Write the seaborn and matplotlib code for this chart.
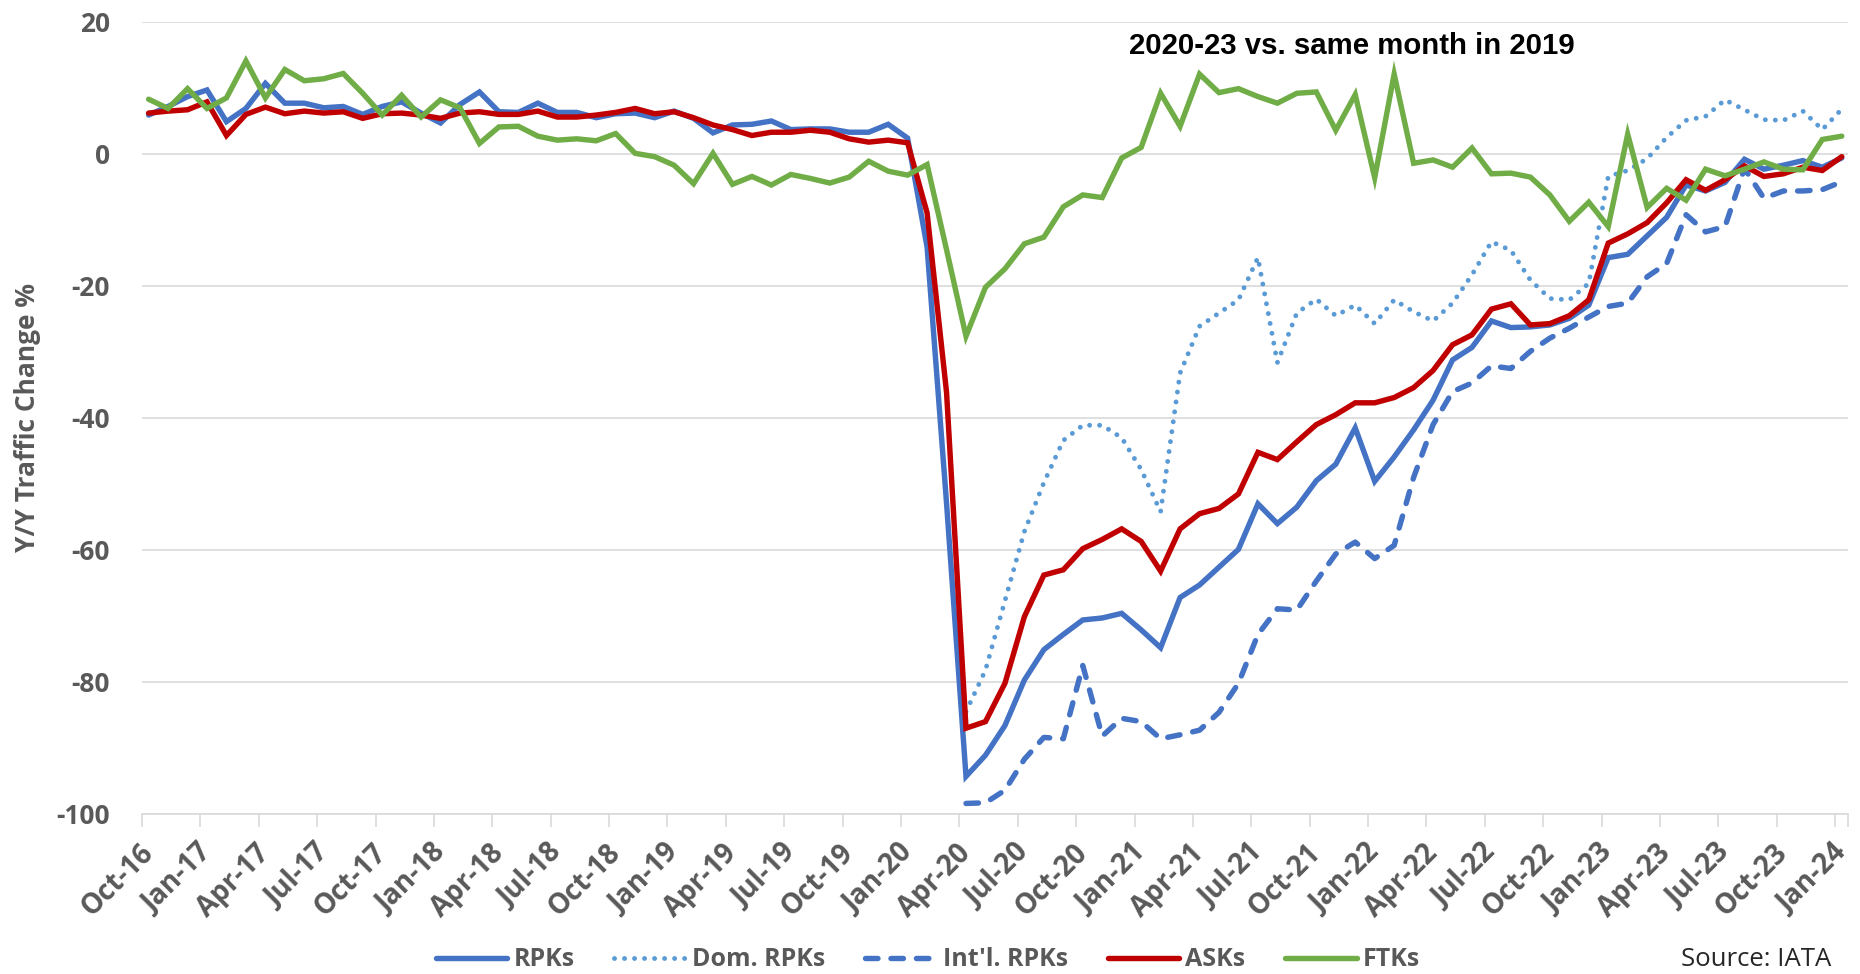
import numpy as np
import pandas as pd
import matplotlib
matplotlib.use("Agg")
import matplotlib.pyplot as plt
import seaborn as sns

# ---------------- data ----------------
months = pd.date_range("2016-10-01", "2024-01-01", freq="MS")
month_labels = [d.strftime("%b-%y") for d in months]

rpks = [5.9, 7.2, 8.7, 9.7, 4.9, 6.9, 10.7, 7.7, 7.7, 7.0, 7.2, 6.0,
        7.2, 7.9, 6.2, 4.7, 7.5, 9.4, 6.4, 6.3, 7.7, 6.3, 6.3, 5.5,
        6.1, 6.2, 5.5, 6.5, 5.4, 3.2, 4.4, 4.5, 5.0, 3.7, 3.8, 3.8,
        3.3, 3.3, 4.5, 2.4, -14.1, -52.9, -94.3, -91.1, -86.6, -79.7, -75.1, -72.8,
        -70.6, -70.3, -69.6, -72.1, -74.8, -67.2, -65.3, -62.6, -59.9, -53.0, -56.0, -53.5,
        -49.5, -47.0, -41.5, -49.6, -45.9, -41.8, -37.3, -31.2, -29.3, -25.3, -26.3, -26.2,
        -25.9, -24.9, -22.9, -15.7, -15.2, -12.4, -9.6, -4.7, -5.6, -4.3, -0.8, -2.3,
        -1.7, -1.0, -2.0, -0.6]

asks = [6.2, 6.5, 6.7, 7.9, 2.8, 6.0, 7.1, 6.1, 6.5, 6.2, 6.4, 5.4,
        6.1, 6.2, 5.9, 5.4, 6.2, 6.4, 6.0, 6.0, 6.5, 5.6, 5.6, 5.9,
        6.3, 6.9, 6.1, 6.4, 5.5, 4.4, 3.7, 2.8, 3.3, 3.3, 3.6, 3.3,
        2.3, 1.8, 2.1, 1.7, -8.9, -36.1, -87.0, -86.0, -80.2, -70.1, -63.8, -63.0,
        -59.8, -58.4, -56.8, -58.7, -63.2, -56.8, -54.5, -53.7, -51.5, -45.2, -46.3, -43.6,
        -41.0, -39.5, -37.7, -37.7, -36.9, -35.4, -32.8, -28.9, -27.4, -23.5, -22.7, -25.9,
        -25.7, -24.5, -22.1, -13.5, -12.1, -10.4, -7.4, -3.9, -5.5, -3.9, -1.8, -3.4,
        -3.0, -2.0, -2.5, -0.4]

ftks = [8.3, 6.9, 9.9, 6.9, 8.5, 14.1, 8.5, 12.8, 11.1, 11.4, 12.2, 9.2,
        5.9, 8.9, 5.6, 8.2, 7.0, 1.6, 4.1, 4.2, 2.7, 2.1, 2.3, 2.0,
        3.1, 0.1, -0.4, -1.7, -4.5, 0.1, -4.6, -3.4, -4.7, -3.1, -3.7, -4.4,
        -3.5, -1.1, -2.6, -3.2, -1.6, -14.5, -27.6, -20.2, -17.4, -13.6, -12.6, -8.0,
        -6.2, -6.6, -0.6, 1.0, 9.2, 4.2, 12.1, 9.3, 9.9, 8.7, 7.7, 9.2,
        9.4, 3.6, 9.0, -3.6, 12.1, -1.4, -0.9, -2.0, 0.9, -3.0, -2.9, -3.5,
        -6.2, -10.2, -7.3, -11.0, 3.0, -8.1, -5.2, -7.0, -2.3, -3.3, -2.3, -1.2,
        -2.3, -2.4, 2.2, 2.7]

# Domestic / international split only shown from Apr-20 onwards
dom_rpks = [np.nan] * 42 + [
        -84.5, -78.2, -67.7, -57.2, -49.8, -43.4,
        -41.1, -41.1, -43.0, -47.8, -54.2, -33.2, -26.1, -24.1, -22.1, -15.7, -31.6, -24.1,
        -22.0, -24.5, -22.9, -25.7, -22.1, -23.9, -25.3, -22.6, -18.3, -13.3, -14.6, -19.1,
        -21.9, -22.1, -19.6, -3.4, -2.5, -0.7, 2.5, 5.1, 5.7, 8.2, 6.7, 5.2,
        5.1, 6.5, 3.7, 6.8]

intl_rpks = [np.nan] * 42 + [
        -98.4, -98.3, -96.4, -91.7, -88.4, -88.6,
        -77.5, -88.2, -85.5, -86.0, -88.6, -88.0, -87.3, -84.6, -80.2, -72.8, -68.9, -69.1,
        -64.7, -60.6, -58.8, -61.3, -59.3, -49.0, -41.0, -36.0, -34.7, -32.1, -32.5, -29.9,
        -27.9, -26.4, -24.7, -23.1, -22.6, -18.6, -16.6, -9.2, -11.8, -11.0, -2.2, -6.7,
        -5.6, -5.6, -5.4, -4.2]

y_ticks = [20, 0, -20, -40, -60, -80, -100]

# ---------------- style ----------------
sns.set_theme(style="white")
plt.rcParams["font.family"] = ["Open Sans", "DejaVu Sans"]

GRAY = "#595959"
C_BLUE = "#4472C4"
C_LBLUE = "#5B9BD5"
C_RED = "#C00000"
C_GREEN = "#70AD47"

fig = plt.figure(figsize=(18.6, 9.74), dpi=100)
ax = fig.add_axes([142 / 1860, 160 / 974, (1848 - 142) / 1860, (814 - 22) / 974])

df = pd.DataFrame({"i": np.arange(len(months)), "RPKs": rpks, "Dom": dom_rpks,
                   "Intl": intl_rpks, "ASKs": asks, "FTKs": ftks})

LW = 3.9
sns.lineplot(data=df, x="i", y="RPKs", ax=ax, color=C_BLUE, linewidth=LW,
             label="RPKs", solid_joinstyle="miter")
sns.lineplot(data=df.dropna(subset=["Dom"]), x="i", y="Dom", ax=ax, color=C_LBLUE,
             linewidth=3.5, linestyle=(0, (0.01, 2.05)), dash_capstyle="round",
             label="Dom. RPKs")
sns.lineplot(data=df.dropna(subset=["Intl"]), x="i", y="Intl", ax=ax, color=C_BLUE,
             linewidth=LW, linestyle=(0, (2.3, 2.4)), dash_capstyle="round",
             label="Int'l. RPKs")
sns.lineplot(data=df, x="i", y="ASKs", ax=ax, color=C_RED, linewidth=LW,
             label="ASKs", solid_joinstyle="miter")
sns.lineplot(data=df, x="i", y="FTKs", ax=ax, color=C_GREEN, linewidth=LW,
             label="FTKs", solid_joinstyle="miter")

# axes limits
n = len(months)
ax.set_xlim(-0.34, n - 1 + 0.32)
ax.set_ylim(-100, 20)

# grid
ax.set_yticks(y_ticks)
ax.yaxis.grid(True, color="#D9D9D9", linewidth=1.2)
ax.xaxis.grid(False)
for s in ["top", "right", "left"]:
    ax.spines[s].set_visible(False)
ax.spines["bottom"].set_color("#D9D9D9")
ax.spines["bottom"].set_linewidth(1.2)
ax.set_axisbelow(True)

# y tick labels
ax.set_yticklabels([str(v) for v in y_ticks])
ax.tick_params(axis="y", length=0, pad=23, labelsize=19, labelcolor=GRAY)
for t in ax.get_yticklabels():
    t.set_fontweight("bold")

# x ticks: labels every 3 months, tick marks between
lab_pos = list(range(0, n, 3))
ax.set_xticks(lab_pos)
ax.set_xticklabels([month_labels[p] for p in lab_pos], rotation=45, ha="right",
                   va="center", rotation_mode="anchor")
ax.tick_params(axis="x", which="major", length=0, pad=25, labelsize=20, labelcolor=GRAY)
for t in ax.get_xticklabels():
    t.set_fontweight("bold")
ax.set_xticks([p - 0.34 for p in lab_pos] + [n - 1 + 0.32], minor=True)
ax.tick_params(axis="x", which="minor", length=9, width=1.2, color="#D9D9D9",
               direction="out", bottom=True)

# y label
ax.set_ylabel("Y/Y Traffic Change %", fontsize=19, fontweight="bold", color=GRAY,
              va="center")
ax.yaxis.set_label_coords((28 - 142) / 1706, 0.5)
ax.set_xlabel("")

# annotation
ax.text((1352 - 142) / 1706, (814 - 46) / 792, "2020-23 vs. same month in 2019",
        transform=ax.transAxes, ha="center", va="center", fontsize=21.2,
        fontweight="bold", color="black", family=["Liberation Sans", "DejaVu Sans"])

# legend
handles, labels = ax.get_legend_handles_labels()
ax.get_legend().remove()
leg = fig.legend(handles, labels, loc="center", bbox_to_anchor=(928 / 1860, 1 - 960 / 974),
                 ncol=5, frameon=False, fontsize=18, handlelength=2.85,
                 handletextpad=0.25, columnspacing=1.6, borderaxespad=0)
for t in leg.get_texts():
    t.set_color(GRAY)
    t.set_fontweight("bold")

fig.text(1831 / 1860, 1 - 960 / 974, "Source: IATA", ha="right", va="center",
         fontsize=18.5, color="#262626")

fig.savefig("out.png", dpi=100)
